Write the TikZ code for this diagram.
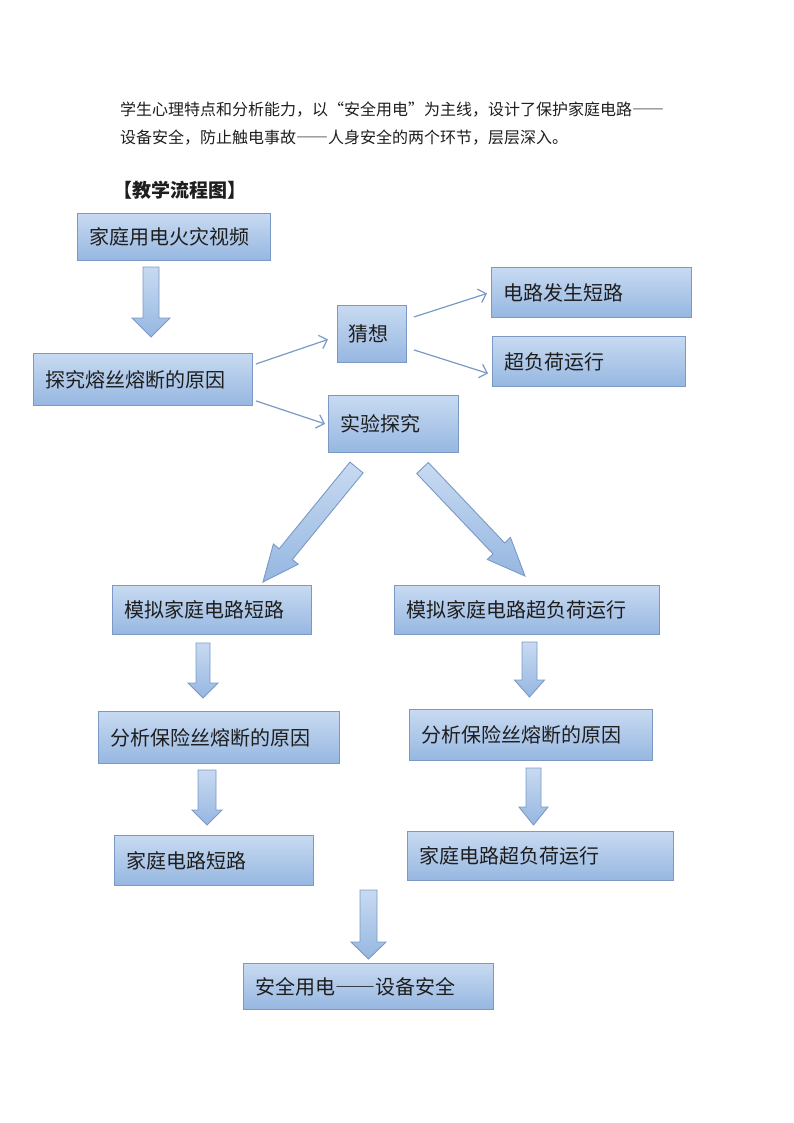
\documentclass[tikz,border=0pt]{standalone}
\usepackage{fontspec}
\setmainfont{Noto Sans CJK SC}[RawFeature=+fwid]
\usetikzlibrary{calc,arrows.meta}
\definecolor{boxtop}{RGB}{200,218,241}
\definecolor{boxbot}{RGB}{150,183,225}
\definecolor{boxline}{RGB}{122,153,197}
\definecolor{txt}{RGB}{30,30,30}
\tikzset{
 box/.style={draw=boxline, line width=0.9pt, top color=boxtop, bottom color=boxbot, anchor=north west, inner xsep=12pt, inner ysep=0pt, align=left, font=\fontsize{20}{24}\selectfont, text=txt},
 thinarrow/.style={draw=boxline, line width=1.2pt, -{Straight Barb[length=7pt,width=14pt,line width=1.2pt]}},
 fatstyle/.style={draw=boxline, line width=0.9pt, top color=boxtop, bottom color=boxbot, line join=miter},
 para/.style={anchor=west, inner sep=0pt, text=txt, font=\fontsize{16}{16}\selectfont},
}
\newcommand\fatarrow[5]{%
 \coordinate (hb) at ($(#2)!#5!(#1)$);
 \path[fatstyle] ($(#1)!#3!90:(#2)$) -- ($(hb)!#3!-90:(#1)$) -- ($(hb)!#4!-90:(#1)$) -- (#2) -- ($(hb)!#4!90:(#1)$) -- ($(hb)!#3!90:(#1)$) -- ($(#1)!#3!-90:(#2)$) -- cycle;}
\begin{document}
\begin{tikzpicture}[x=1pt,y=-1pt]
\useasboundingbox (0,0) rectangle (794,1123);
% paragraph
\node[para] (p1) at (120,110) {学生心理特点和分析能力，以“安全用电”为主线，设计了保护家庭电路——};
\node[para] (p2) at (120,138) {设备安全，防止触电事故——人身安全的两个环节，层层深入。};
\node[para, font=\fontsize{19}{19}\selectfont\bfseries] (title) at (113,190) {【教学流程图】};
% boxes
\node[box, text width=169pt, minimum height=47pt] (b1) at (77,213) {家庭用电火灾视频};
\node[box, text width=195pt, minimum height=52pt] (b2) at (33,353) {探究熔丝熔断的原因};
\node[box, text width=47pt, minimum height=57pt, inner xsep=11pt] (b3) at (337,305) {猜想};
\node[box, text width=176pt, minimum height=50pt] (b4) at (491,267) {电路发生短路};
\node[box, text width=169pt, minimum height=50pt] (b5) at (492,336) {超负荷运行};
\node[box, text width=106pt, minimum height=57pt] (b6) at (328,395) {实验探究};
\node[box, text width=175pt, minimum height=49pt] (b7) at (112,585) {模拟家庭电路短路};
\node[box, text width=241pt, minimum height=49pt] (b8) at (394,585) {模拟家庭电路超负荷运行};
\node[box, text width=217pt, minimum height=52pt] (b9) at (98,711) {分析保险丝熔断的原因};
\node[box, text width=219pt, minimum height=51pt] (b10) at (409,709) {分析保险丝熔断的原因};
\node[box, text width=175pt, minimum height=50pt] (b11) at (114,835) {家庭电路短路};
\node[box, text width=242pt, minimum height=49pt] (b12) at (407,831) {家庭电路超负荷运行};
\node[box, text width=226pt, minimum height=46pt] (b13) at (243,963) {安全用电——设备安全};
% thin arrows
\draw[thinarrow] ($(b2.north east)+(3,11)$) -- ($(b3.west)+(-9,5.5)$);
\draw[thinarrow] ($(b2.south east)+(3,-5)$) -- ($(b6.west)+(-3,0)$);
\draw[thinarrow] ($(b3.north east)+(7,12)$) -- ($(b4.west)+(-4,1)$);
\draw[thinarrow] ($(b3.south east)+(7,-13)$) -- ($(b5.west)+(-4,12)$);
% block arrows
\coordinate (a1s) at (151,267); \coordinate (a1e) at (151,337);
\fatarrow{a1s}{a1e}{8pt}{19pt}{19pt}
\coordinate (L1) at (356.5,467.5); \coordinate (L2) at (263,582);
\fatarrow{L1}{L2}{8.5pt}{16pt}{36pt}
\coordinate (R1) at (422.5,468); \coordinate (R2) at (525,576);
\fatarrow{R1}{R2}{8pt}{16pt}{38pt}
\coordinate (a2s) at (203,643); \coordinate (a2e) at (203,698);
\fatarrow{a2s}{a2e}{7pt}{15pt}{15pt}
\coordinate (a3s) at (207,770); \coordinate (a3e) at (207,825);
\fatarrow{a3s}{a3e}{9pt}{15pt}{15pt}
\coordinate (a4s) at (529.5,642); \coordinate (a4e) at (529.5,697);
\fatarrow{a4s}{a4e}{7.5pt}{15pt}{17pt}
\coordinate (a5s) at (533.5,768); \coordinate (a5e) at (533.5,825);
\fatarrow{a5s}{a5e}{7.5pt}{14.5pt}{18pt}
\coordinate (a6s) at (368.5,890); \coordinate (a6e) at (368.5,959);
\fatarrow{a6s}{a6e}{8.5pt}{17.5pt}{17pt}
\end{tikzpicture}
\end{document}
